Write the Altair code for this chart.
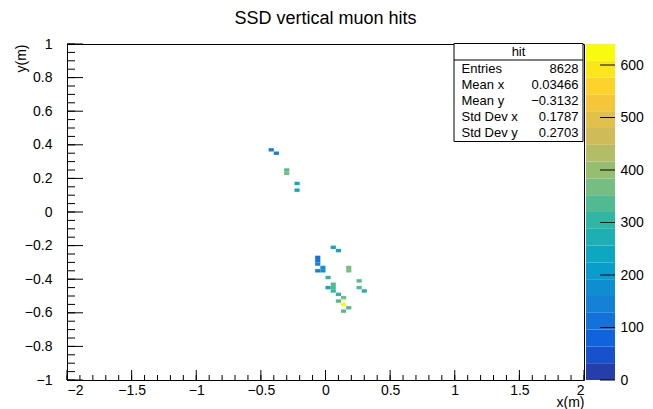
import altair as alt
import pandas as pd

# ---------------- data (bin centres in metres, entries per bin) ----------------
x_centers = [-0.42, -0.38, -0.30, -0.30, -0.22, -0.22,
             0.06, 0.10, -0.06, -0.06, -0.06, -0.06, -0.02, -0.02, 0.18, 0.18,
             0.02, 0.02, 0.06, 0.06, 0.06, 0.10, 0.14, 0.10, 0.14, 0.18, 0.14,
             0.26, 0.26, 0.30]
y_centers = [0.37, 0.35, 0.25, 0.23, 0.17, 0.13,
             -0.21, -0.23, -0.27, -0.29, -0.31, -0.35, -0.33, -0.35, -0.33, -0.35,
             -0.39, -0.45, -0.43, -0.45, -0.47, -0.49, -0.51, -0.53, -0.55, -0.57, -0.59,
             -0.41, -0.45, -0.47]
counts = [140, 150, 345, 370, 240, 240,
          230, 240, 110, 120, 130, 150, 180, 180, 370, 370,
          300, 240, 320, 340, 300, 310, 370, 320, 640, 330, 320,
          340, 320, 270]

x_major = [-2, -1.5, -1, -0.5, 0, 0.5, 1, 1.5, 2]
y_major = [-1, -0.8, -0.6, -0.4, -0.2, 0, 0.2, 0.4, 0.6, 0.8, 1]
x_minor = [round(-2 + 0.1 * i, 2) for i in range(41)]
y_minor = [round(-1 + 0.05 * i, 2) for i in range(41)]
z_ticks = [0, 100, 200, 300, 400, 500, 600]

stat_names = ["Entries", "Mean x", "Mean y", "Std Dev x", "Std Dev y"]
stat_values = ["8628", "0.03466", "\u22120.3132", "0.1787", "0.2703"]

X_STEP, Y_STEP = 0.04, 0.02
Z_MAX = 640
N_LEVELS = 20

# ---------------- ROOT kBird palette ----------------
bird_stops = [0.0, 0.125, 0.25, 0.375, 0.5, 0.625, 0.75, 0.875, 1.0]
bird_r = [0.2082, 0.0592, 0.0780, 0.0232, 0.1802, 0.5301, 0.8186, 0.9956, 0.9764]
bird_g = [0.1664, 0.3599, 0.5041, 0.6419, 0.7178, 0.7492, 0.7328, 0.7862, 0.9832]
bird_b = [0.5293, 0.8684, 0.8385, 0.7914, 0.6425, 0.4662, 0.3499, 0.1968, 0.0539]


def bird(t):
    for k in range(8):
        if t <= bird_stops[k + 1]:
            f = (t - bird_stops[k]) / (bird_stops[k + 1] - bird_stops[k])
            break
    comp = [c[k] + f * (c[k + 1] - c[k]) for c in (bird_r, bird_g, bird_b)]
    return "#%02x%02x%02x" % tuple(int(round(255 * v)) for v in comp)


palette = [bird((i + 0.99) / N_LEVELS) for i in range(N_LEVELS)]
level_lo = [i * Z_MAX / N_LEVELS for i in range(N_LEVELS)]

W, H = 517, 336
FONT = "Liberation Sans"

cells = pd.DataFrame({"xc": x_centers, "yc": y_centers, "count": counts})
color_scale = alt.Scale(type="quantize", domain=[0, Z_MAX], range=palette, nice=False)
xs = alt.Scale(domain=[-2, 2], nice=False, zero=False)
ys = alt.Scale(domain=[-1, 1], nice=False, zero=False)

x_axis = alt.Axis(
    values=x_major, format="~g", ticks=False, domain=False, grid=False,
    labelFontSize=14, labelPadding=3, labelColor="black",
    title="x(m)", titleX=W, titleY=15, titleAlign="right", titleBaseline="top",
    titleFontSize=14, titleFontWeight="normal", titleColor="black")
y_axis = alt.Axis(
    values=y_major, format="~g", ticks=False, domain=False, grid=False,
    labelFontSize=14, labelPadding=15, labelColor="black",
    title="y(m)", titleAngle=-90, titleX=-42, titleY=0, titleAlign="right",
    titleBaseline="alphabetic", titleFontSize=14, titleFontWeight="normal",
    titleColor="black")

hist = alt.Chart(cells).transform_calculate(
    x0=f"datum.xc - {X_STEP / 2}", x1=f"datum.xc + {X_STEP / 2}",
    y0=f"datum.yc - {Y_STEP / 2}", y1=f"datum.yc + {Y_STEP / 2}",
).mark_rect(strokeWidth=0).encode(
    x=alt.X("x0:Q", scale=xs, axis=x_axis),
    x2="x1:Q",
    y=alt.Y("y0:Q", scale=ys, axis=y_axis),
    y2="y1:Q",
    color=alt.Color("count:Q", scale=color_scale, legend=None),
)


def xticks(vals, length):
    return alt.Chart(pd.DataFrame({"x0": vals})).mark_rule(color="black", strokeWidth=1).encode(
        x=alt.X("x0:Q", scale=xs, axis=x_axis), y=alt.value(H), y2=alt.value(H - length))


def yticks(vals, length):
    return alt.Chart(pd.DataFrame({"y0": vals})).mark_rule(color="black", strokeWidth=1).encode(
        y=alt.Y("y0:Q", scale=ys, axis=y_axis), x=alt.value(0), x2=alt.value(length))


title = alt.Chart(pd.DataFrame({"t": ["SSD vertical muon hits"]})).mark_text(
    font=FONT, fontSize=18, color="black", align="center", baseline="alphabetic"
).encode(text="t:N", x=alt.value(W / 2), y=alt.value(-20))

box = alt.Chart(pd.DataFrame({"a": [0]})).mark_rect(
    fill="white", stroke="black", strokeWidth=1
).encode(x=alt.value(387), x2=alt.value(516), y=alt.value(-0.5), y2=alt.value(97.5))
box_line = alt.Chart(pd.DataFrame({"a": [0]})).mark_rule(color="black", strokeWidth=1).encode(
    x=alt.value(387), x2=alt.value(516), y=alt.value(16))
box_head = alt.Chart(pd.DataFrame({"t": ["hit"]})).mark_text(
    font=FONT, fontSize=13, color="black", align="center", baseline="alphabetic"
).encode(text="t:N", x=alt.value(451.5), y=alt.value(12))

stats = pd.DataFrame({"names": ["\n".join(stat_names)], "vals": ["\n".join(stat_values)]})
stat_names_t = alt.Chart(stats).mark_text(
    font=FONT, fontSize=13, color="black", align="left", baseline="alphabetic",
    lineBreak="\n", lineHeight=15.9,
).encode(text="names:N", x=alt.value(394.5), y=alt.value(29.3))
stat_vals_t = alt.Chart(stats).mark_text(
    font=FONT, fontSize=13, color="black", align="right", baseline="alphabetic",
    lineBreak="\n", lineHeight=15.9,
).encode(text="vals:N", x=alt.value(511.5), y=alt.value(29.3))

main = alt.layer(
    hist, xticks(x_minor, 5), xticks(x_major, 10), yticks(y_minor, 8), yticks(y_major, 16),
    title, box, box_line, box_head, stat_names_t, stat_vals_t,
)

# ---------------- colour bar ----------------
zs = alt.Scale(domain=[0, Z_MAX], nice=False, zero=False)
z_axis = alt.Axis(
    orient="right", offset=31, values=z_ticks, ticks=False, domain=False, grid=False,
    labelFontSize=14, labelPadding=5, labelColor="black", title=None)
bands = alt.Chart(pd.DataFrame({"lo": level_lo})).transform_calculate(
    hi=f"datum.lo + {Z_MAX / N_LEVELS}", mid=f"datum.lo + {Z_MAX / N_LEVELS / 2}"
).mark_rect(strokeWidth=0).encode(
    x=alt.value(519), x2=alt.value(548),
    y=alt.Y("lo:Q", scale=zs, axis=z_axis),
    y2="hi:Q",
    color=alt.Color("mid:Q", scale=color_scale, legend=None),
)
cbar_ticks = alt.Chart(pd.DataFrame({"lo": z_ticks})).mark_rule(color="black", strokeWidth=1).encode(
    y=alt.Y("lo:Q", scale=zs, axis=z_axis), x=alt.value(533), x2=alt.value(548))
cbar = alt.layer(bands, cbar_ticks)

chart = alt.layer(main, cbar).resolve_scale(y="independent").properties(
    width=W, height=H,
    autosize=alt.AutoSizeParams(type="none"),
    padding={"left": 67, "top": 44, "right": 653 - 67 - W, "bottom": 409 - 44 - H},
    background="white",
).configure_view(stroke="black", strokeWidth=1).configure_axis(
    labelFont=FONT, titleFont=FONT
).configure_text(font=FONT)

chart.save("out.html", embed_options={"renderer": "svg", "actions": False})
